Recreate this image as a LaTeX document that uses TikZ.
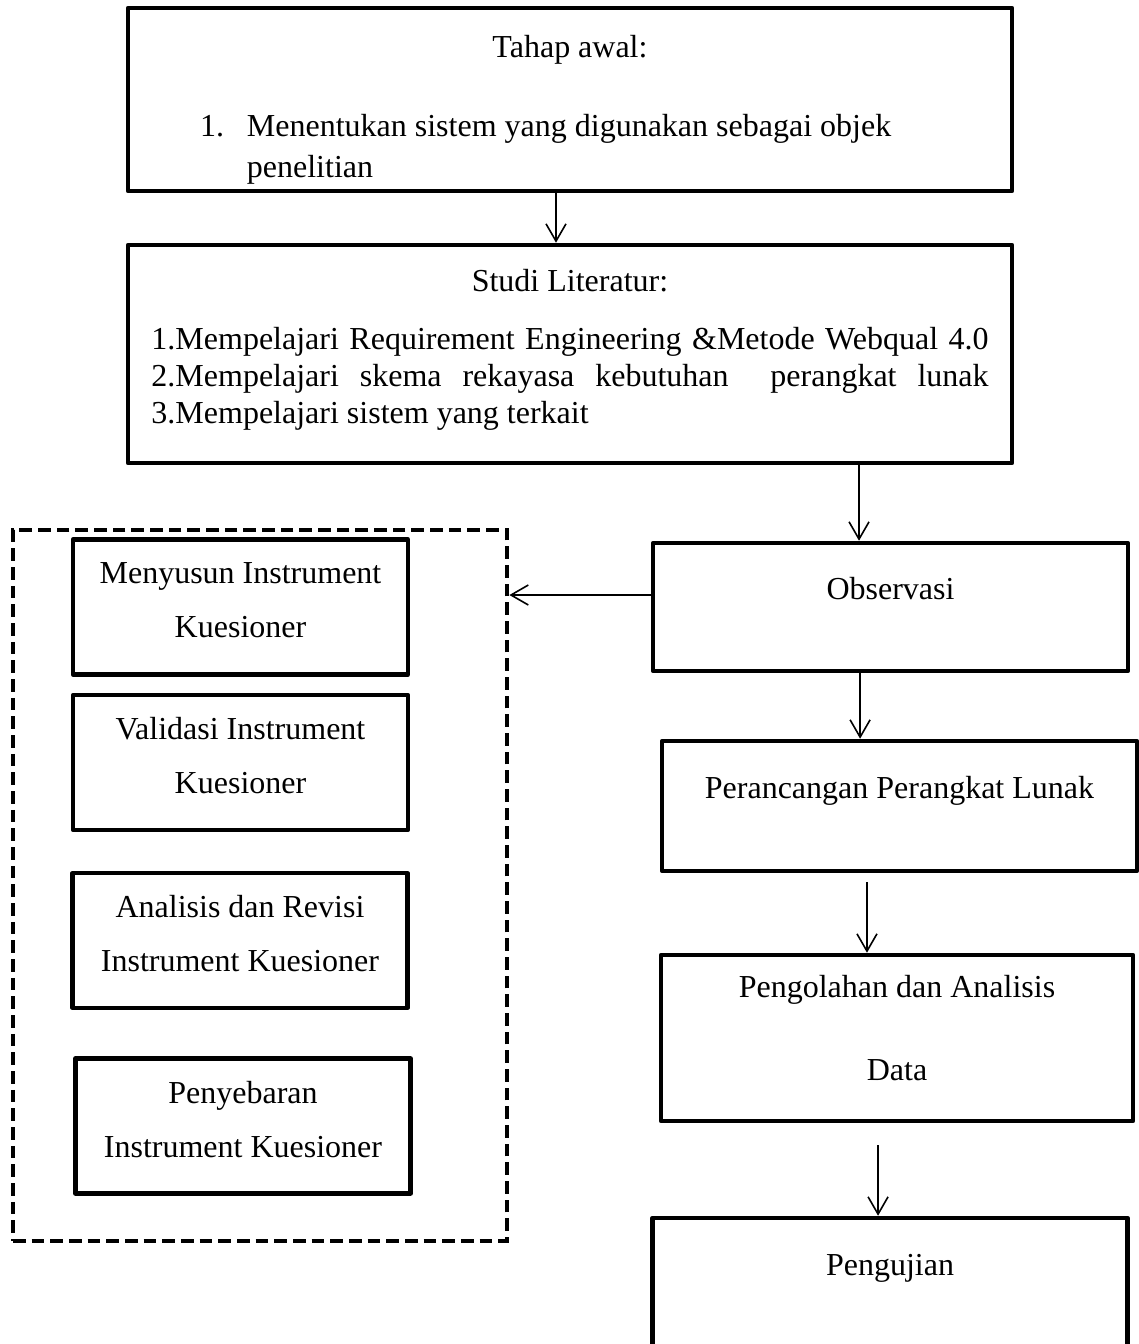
\documentclass[tikz,border=0pt]{standalone}
\usepackage{fontspec}
\setmainfont{Liberation Serif}
\usetikzlibrary{shapes,arrows.meta,positioning}

% ruang kosong di atas / di bawah teks kotak
\newcommand{\ruangatas}[1]{\rule{0pt}{#1}}
\newcommand{\ruangbawah}[1]{\rule[-#1]{0pt}{#1}}

\begin{document}
\begin{tikzpicture}[
    x=0.375pt, y=-0.375pt,
    font=\fontsize{12}{13.8}\selectfont,
    box/.style={draw, rectangle, line width=1.7pt, line join=round, inner sep=0pt, align=center},
    bigbox/.style={box, minimum width=331.5pt},
    rightbox/.style={box, minimum width=178pt, minimum height=48.75pt},
    leftbox/.style={box, minimum width=125.6pt, minimum height=50.5pt, execute at end node={\ruangbawah{5.25pt}}},
    group/.style={draw, rectangle, line width=1.8pt, dash pattern=on 4.75pt off 2.25pt, inner sep=0pt},
    arrow/.style={-{Straight Barb[length=6.5pt,width=7.5pt]}, line width=0.6pt}
]
    \useasboundingbox (0,0) rectangle (1139,1344);

    % alur utama
    \node[bigbox, minimum height=68.6pt] (awal) at (570,99.5) {\ruangatas{16.4pt}Tahap awal:\\[15.8pt]
        \makebox[277.5pt][l]{1.\hspace{8.6pt}Menentukan sistem yang digunakan sebagai objek}\\[1.6pt]
        \makebox[277.5pt][l]{\hspace*{17.6pt}penelitian}};
    \node[bigbox, minimum height=81.75pt] (studi) at (570,354) {Studi Literatur:\\[8pt]
        \makebox[313.9pt][s]{1.Mempelajari Requirement Engineering \&Metode Webqual 4.0}\\
        \makebox[313.9pt][s]{2.Mempelajari skema rekayasa kebutuhan\ \ perangkat lunak}\\
        \makebox[313.9pt][l]{3.Mempelajari sistem yang terkait}\ruangbawah{5.6pt}};
    \node[rightbox, minimum height=48pt] (obs) at (890.5,607) {Observasi\\ \mbox{}};
    \node[rightbox] (rancang) at (899.5,806) {Perancangan Perangkat Lunak\\ \mbox{}};
    \node[rightbox, minimum width=177pt, minimum height=62.25pt] (olah) at (897,1038) {Pengolahan dan Analisis\\[17.3pt]Data\ruangbawah{7.5pt}};
    \node[rightbox] (uji) at (890,1283) {Pengujian\\ \mbox{}};

    % kuesioner
    \node[group, minimum width=185.25pt, minimum height=266.6pt] (grp) at (260,885.5) {};
    \node[leftbox] (susun) at (240.5,607) {Menyusun Instrument\\[6.4pt]Kuesioner};
    \node[leftbox] (valid) at (240.5,762.5) {Validasi Instrument\\[6.4pt]Kuesioner};
    \node[leftbox] (revisi) at (240,940.5) {Analisis dan Revisi\\[6.4pt]Instrument Kuesioner};
    \node[leftbox] (sebar) at (243,1126) {Penyebaran\\[6.4pt]Instrument Kuesioner};

    \draw[arrow] ([xshift=-5.25pt]awal.south) -- ([xshift=-5.25pt]awal.south |- studi.north);
    \draw[arrow] ([xshift=-11.8pt]obs.north |- studi.south) -- ([xshift=-11.8pt]obs.north);
    \draw[arrow] ([yshift=4.5pt]obs.west) -- ([yshift=4.5pt]obs.west -| grp.east);
    \draw[arrow] ([xshift=-11.4pt]obs.south) -- ([xshift=-11.4pt]obs.south |- rancang.north);
    \draw[arrow, shorten <=3.4pt] ([xshift=-12.2pt]rancang.south) -- ([xshift=-12.2pt]rancang.south |- olah.north);
    \draw[arrow, shorten <=8.25pt] ([xshift=-7.1pt]olah.south) -- ([xshift=-7.1pt]olah.south |- uji.north);
\end{tikzpicture}
\end{document}
